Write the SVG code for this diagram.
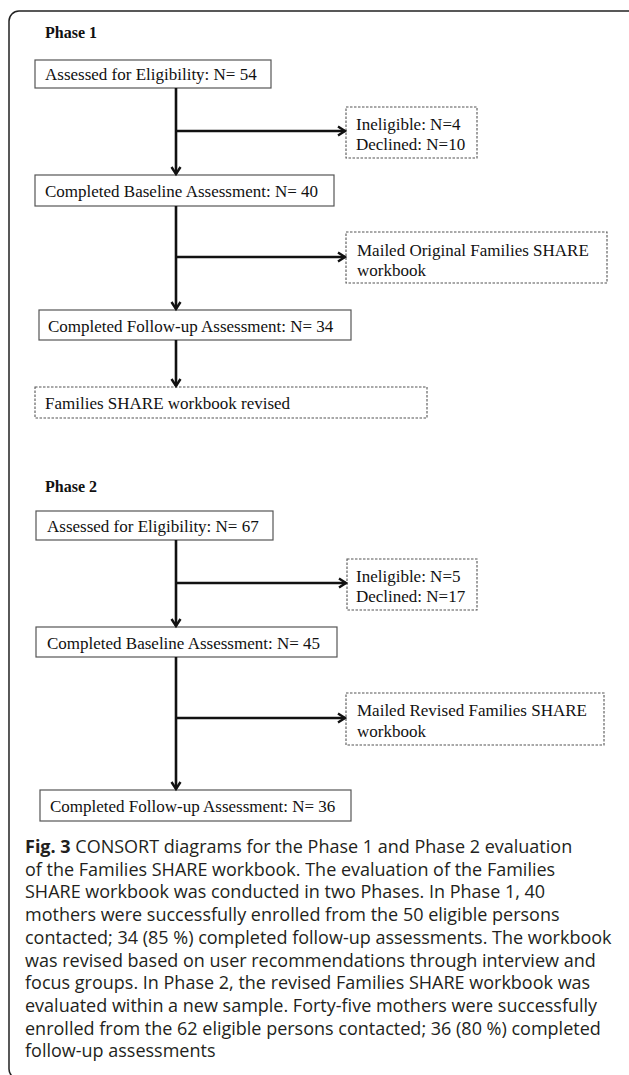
<svg xmlns="http://www.w3.org/2000/svg" width="629" height="1075" viewBox="0 0 629 1075">
<style>
.bg{fill:#fff}
.frame{fill:none;stroke:#222;stroke-width:1.5}
.box{fill:#fff;stroke:#555;stroke-width:1.2}
.dbox{fill:#fff;stroke:#555;stroke-width:1.1;stroke-dasharray:2.5 1.5}
.t{font-family:"Liberation Serif","Times New Roman",serif;font-size:17px;fill:#111}
.ph{font-family:"Liberation Serif","Times New Roman",serif;font-size:16px;font-weight:bold;fill:#111}
.cap{font-family:"Open Sans","Noto Sans",sans-serif;font-size:18px;fill:#231f20}
.conn path{fill:none;stroke:#111;stroke-width:2.6}
</style>
<defs>
<marker id="ah" viewBox="0 0 12 12" markerWidth="12" markerHeight="12" refX="9" refY="6" orient="auto" markerUnits="userSpaceOnUse">
<path d="M2,1.5 L9,6 L2,10.5" fill="none" stroke="#111" stroke-width="2.4" stroke-linejoin="miter"/>
</marker>
</defs>
<rect class="bg" x="0" y="0" width="629" height="1075"/>
<rect class="frame" x="9" y="11" width="660" height="1068" rx="10"/>

<text class="ph" x="45" y="38">Phase 1</text>
<g id="p1-assessed"><rect class="box" x="35" y="60" width="236" height="28"/><text class="t" x="45" y="80">Assessed for Eligibility: N= 54</text></g>
<g id="p1-excluded"><rect class="dbox" x="346" y="107" width="131" height="51"/><text class="t" x="356" y="130">Ineligible: N=4</text><text class="t" x="356" y="150">Declined: N=10</text></g>
<g id="p1-baseline"><rect class="box" x="35" y="175" width="299" height="31"/><text class="t" x="45" y="197">Completed Baseline Assessment: N= 40</text></g>
<g id="p1-mailed"><rect class="dbox" x="346" y="232" width="261" height="51"/><text class="t" x="357" y="256">Mailed Original Families SHARE</text><text class="t" x="357" y="276">workbook</text></g>
<g id="p1-followup"><rect class="box" x="39" y="310" width="312" height="30"/><text class="t" x="48" y="332">Completed Follow-up Assessment: N= 34</text></g>
<g id="p1-revised"><rect class="dbox" x="35" y="387" width="392" height="31"/><text class="t" x="45" y="409">Families SHARE workbook revised</text></g>

<text class="ph" x="45" y="492">Phase 2</text>
<g id="p2-assessed"><rect class="box" x="36" y="511" width="237" height="29"/><text class="t" x="47" y="532">Assessed for Eligibility: N= 67</text></g>
<g id="p2-excluded"><rect class="dbox" x="347" y="559" width="130" height="51"/><text class="t" x="356" y="582">Ineligible: N=5</text><text class="t" x="356" y="602">Declined: N=17</text></g>
<g id="p2-baseline"><rect class="box" x="36" y="627" width="301" height="30"/><text class="t" x="47" y="649">Completed Baseline Assessment: N= 45</text></g>
<g id="p2-mailed"><rect class="dbox" x="346" y="693" width="258" height="52"/><text class="t" x="357" y="716">Mailed Revised Families SHARE</text><text class="t" x="357" y="737">workbook</text></g>
<g id="p2-followup"><rect class="box" x="40" y="790" width="311" height="31"/><text class="t" x="50" y="812">Completed Follow-up Assessment: N= 36</text></g>

<g id="connectors" class="conn">
<path d="M176,88 V174" marker-end="url(#ah)"/>
<path d="M176,131 H345" marker-end="url(#ah)"/>
<path d="M176,206 V309" marker-end="url(#ah)"/>
<path d="M176,257 H345" marker-end="url(#ah)"/>
<path d="M176,340 V386" marker-end="url(#ah)"/>
<path d="M176,540 V626" marker-end="url(#ah)"/>
<path d="M176,583 H346" marker-end="url(#ah)"/>
<path d="M176,657 V789" marker-end="url(#ah)"/>
<path d="M176,718 H345" marker-end="url(#ah)"/>
</g>

<g id="caption" class="cap">
<text x="25" y="853"><tspan font-weight="bold">Fig. 3</tspan> CONSORT diagrams for the Phase 1 and Phase 2 evaluation</text>
<text x="25" y="875.7">of the Families SHARE workbook. The evaluation of the Families</text>
<text x="25" y="898.4">SHARE workbook was conducted in two Phases. In Phase 1, 40</text>
<text x="25" y="921.1">mothers were successfully enrolled from the 50 eligible persons</text>
<text x="25" y="943.8">contacted; 34 (85 %) completed follow-up assessments. The workbook</text>
<text x="25" y="966.5">was revised based on user recommendations through interview and</text>
<text x="25" y="989.2">focus groups. In Phase 2, the revised Families SHARE workbook was</text>
<text x="25" y="1011.9">evaluated within a new sample. Forty-five mothers were successfully</text>
<text x="25" y="1034.6">enrolled from the 62 eligible persons contacted; 36 (80 %) completed</text>
<text x="25" y="1057.3">follow-up assessments</text>
</g>
</svg>
